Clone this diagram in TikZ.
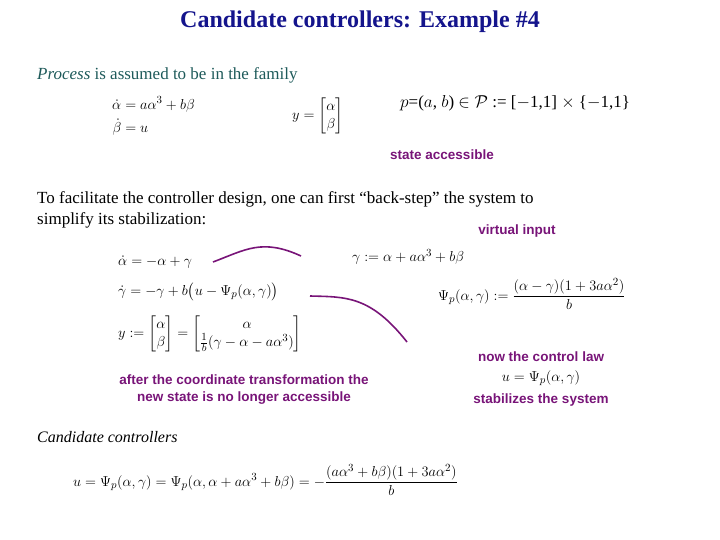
\documentclass[tikz,border=0pt]{standalone}
\usepackage{amsmath}
\usepackage{amssymb}
\usepackage{fontspec}
\setmainfont{Liberation Serif}
\setsansfont{Liberation Sans}
\usetikzlibrary{positioning}
\definecolor{titleblue}{RGB}{20,20,140}
\definecolor{procteal}{RGB}{30,90,90}
\definecolor{note}{RGB}{120,20,120}

\begin{document}
\begin{tikzpicture}[x=1pt, y=-1pt,
  txt/.style = {anchor=west, inner sep=0pt, font=\fontsize{17}{21}\selectfont},
  eq/.style = {anchor=west, inner sep=0pt, font=\fontsize{15}{18}\selectfont},
  lbl/.style = {inner sep=0pt, text=note, font=\sffamily\bfseries\fontsize{13.5}{17}\selectfont, align=center},
  link/.style = {draw=note, line width=1.6pt}]
    \useasboundingbox (0,0) rectangle (720,540);
    % title and text
    \node[inner sep=0pt, text=titleblue, font=\bfseries\fontsize{24}{28}\selectfont] (title) at (360,22) {Candidate controllers: Example \#4};
    \node[txt, text=procteal] (proc) at (37,75) {\textit{Process} is assumed to be in the family};
    \node[eq] (sys) at (112,117) {$\begin{aligned}\dot\alpha&=a\alpha^3+b\beta\\ \dot\beta&=u\end{aligned}$};
    \node[eq] (out) at (292,116) {$y=\begin{bmatrix}\alpha\\ \beta\end{bmatrix}$};
    \node[txt] (fam) at (400,103) {$p$=($a$, $b$) $\in\mathcal{P}$ := [$-$1,1] $\times$ \{$-$1,1\}};
    \node[lbl] (acc) at (442,155) {state accessible};
    \node[txt, align=left] (intro) at (37,210) {To facilitate the controller design, one can first “back-step” the system to\\simplify its stabilization:};
    \node[lbl] (virt) at (517,231) {virtual input};
    % transformed system
    \node[eq] (adot) at (118,262) {$\dot\alpha=-\alpha+\gamma$};
    \node[eq] (gdot) at (118,292) {$\dot\gamma=-\gamma+b\bigl(u-\Psi_p(\alpha,\gamma)\bigr)$};
    \node[eq] (ynew) at (118,334) {$y:=\begin{bmatrix}\alpha\\ \beta\end{bmatrix}=\begin{bmatrix}\alpha\\ \frac1b(\gamma-\alpha-a\alpha^3)\end{bmatrix}$};
    \node[eq] (gdef) at (352,257) {$\gamma:=\alpha+a\alpha^3+b\beta$};
    \node[eq] (psi) at (438,294) {$\Psi_p(\alpha,\gamma):=\dfrac{(\alpha-\gamma)(1+3a\alpha^2)}{b}$};
    \node[lbl] (after) at (244,390) {after the coordinate transformation the\\new state is no longer accessible};
    \node[lbl] (law) at (541,357) {now the control law};
    \node[eq, anchor=center] (ulaw) at (541,378) {$u=\Psi_p(\alpha,\gamma)$};
    \node[lbl] (stab) at (541,400) {stabilizes the system};
    \node[txt, font=\itshape\fontsize{16}{20}\selectfont] (cand) at (37,437) {Candidate controllers};
    \node[eq] (ctrl) at (73,480) {$u=\Psi_p(\alpha,\gamma)=\Psi_p(\alpha,\alpha+a\alpha^3+b\beta)=-\dfrac{(a\alpha^3+b\beta)(1+3a\alpha^2)}{b}$};
    % purple connectors
    \coordinate (v1) at (213,262);
    \coordinate (v2) at (301,256);
    \coordinate (w1) at (310,296);
    \coordinate (w2) at (407,342);
    \draw[link] (v1) .. controls (245,250) and (262,238) .. (v2);
    \draw[link] (w1) .. controls (345,297) and (370,295) .. (w2);
\end{tikzpicture}
\end{document}
